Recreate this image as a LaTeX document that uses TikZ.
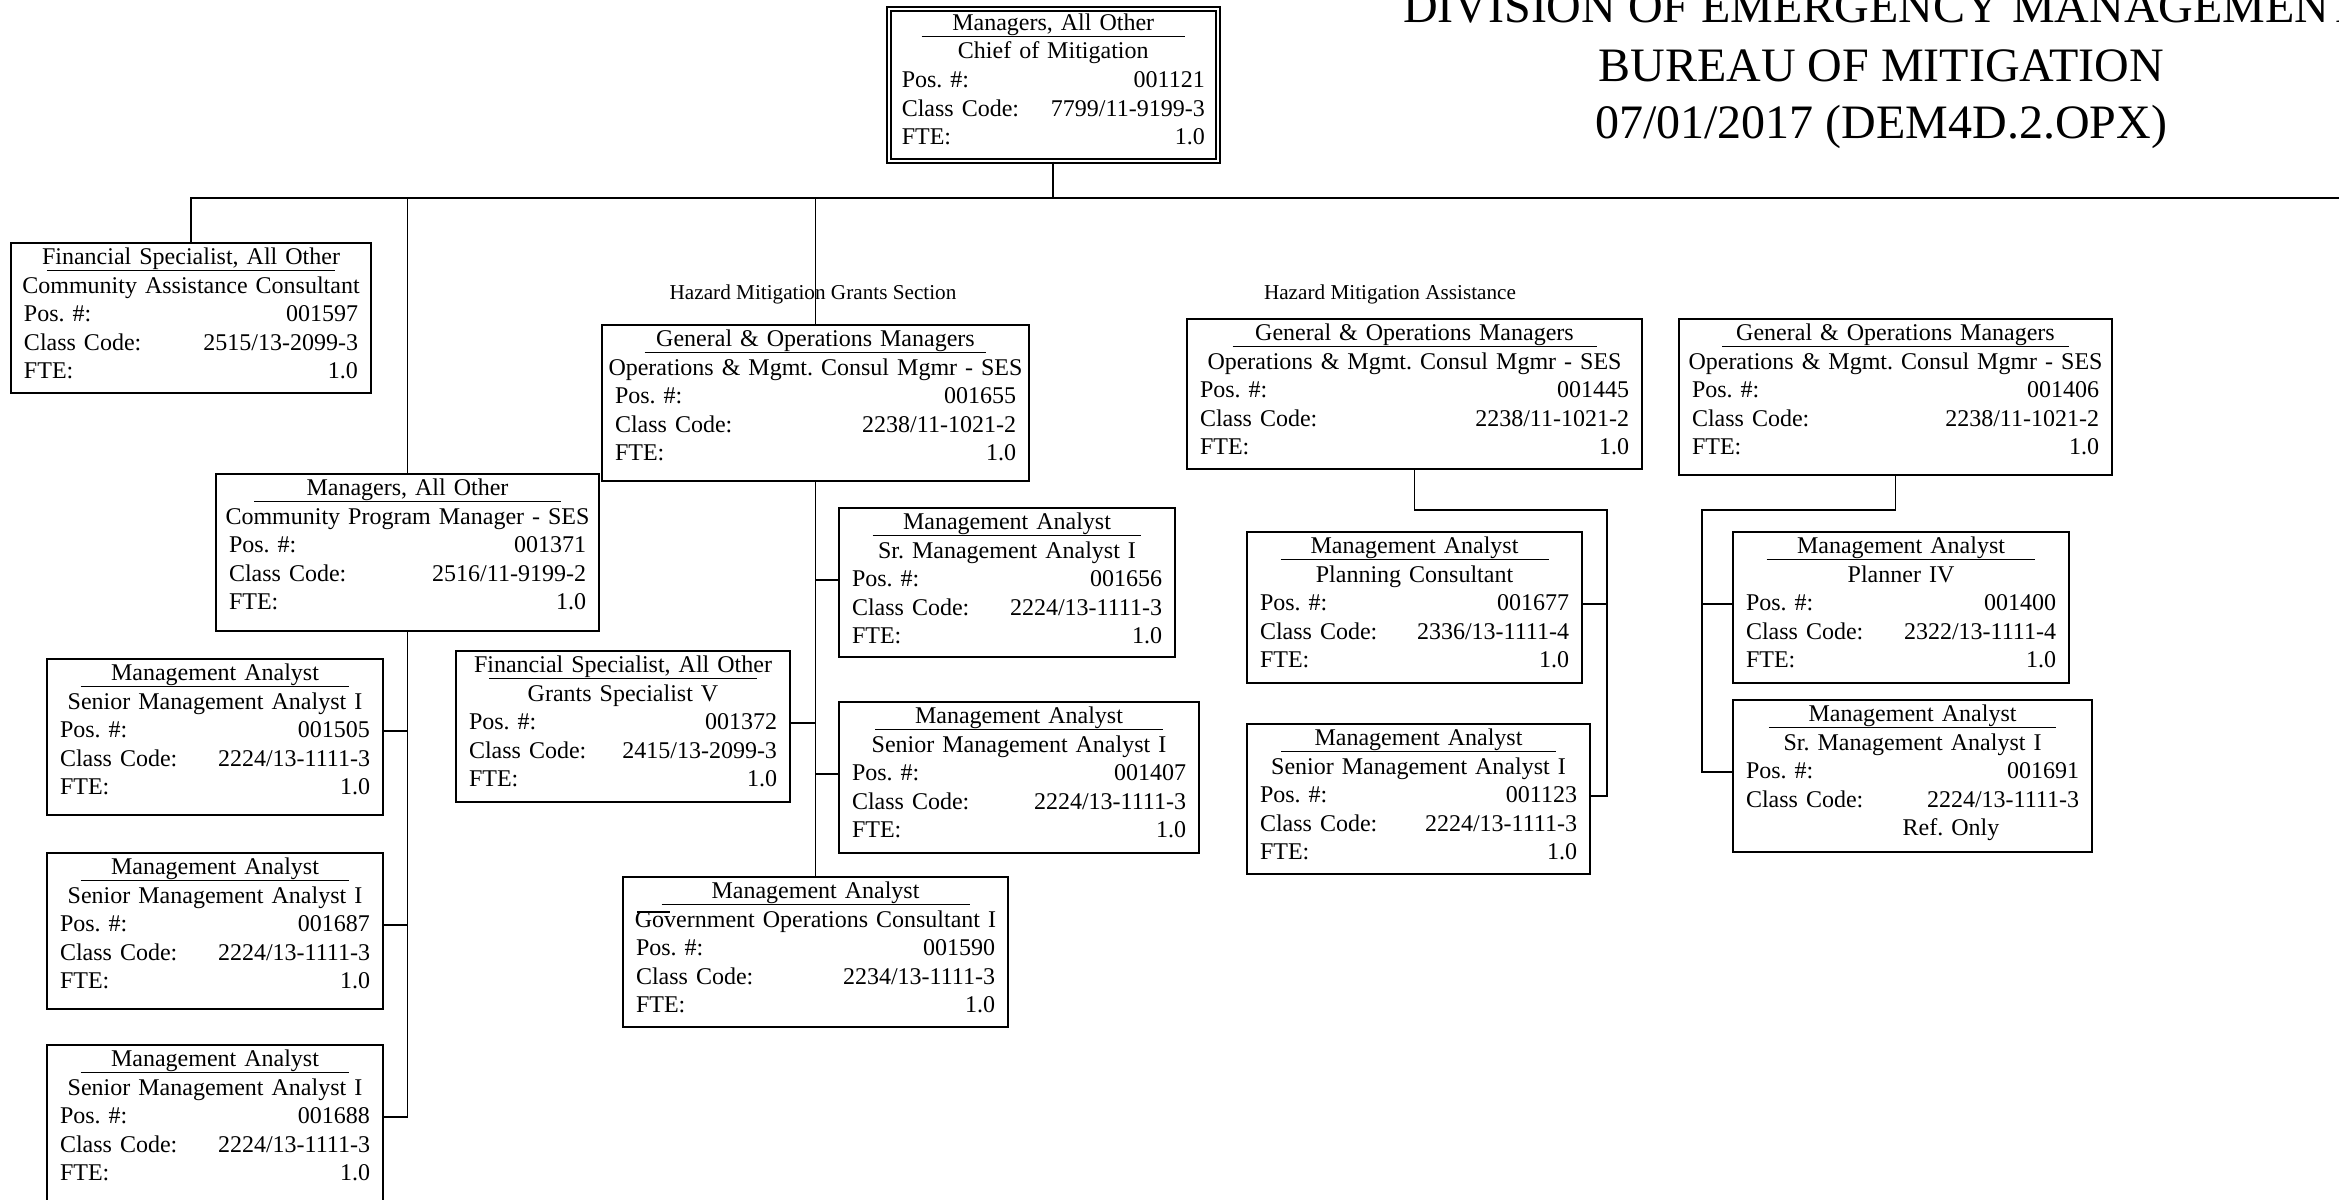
\documentclass[tikz,border=0pt]{standalone}
\usepackage{fontspec}
\setmainfont{Liberation Serif}
\frenchspacing

% one position card: name, left, top, right, bottom (px), body
\newcommand\card[7][card]{%
  \pgfmathsetmacro\cwid{(#5-#3)/2}%
  \pgfmathsetmacro\chgt{(#6-#4)/2}%
  \pgfmathsetmacro\ctw{\cwid-13}%
  \pgfmathsetmacro\ctd{\chgt-10.75}%
  \pgfmathsetmacro\culw{0.8*\cwid}%
  \node[#1, text width=\ctw pt, text depth=\ctd pt] (#2) at (#3,#4) {#7};%
}
% card body: title, working title, position, class code, FTE
\newcommand\cardtext[5]{%
  \makebox[\linewidth][c]{\makebox[0pt][c]{#1}\makebox[0pt][c]{\rule[-3.35pt]{\culw pt}{0.65pt}}}\\
  \makebox[\linewidth][c]{#2}\\
  \makebox[\linewidth][l]{Pos. \#:\hfill #3}\\
  \makebox[\linewidth][l]{Class Code:\hfill #4}\\
  \makebox[\linewidth][l]{FTE:\hfill #5}}
% card body with a reference-only last line
\newcommand\cardref[4]{%
  \makebox[\linewidth][c]{\makebox[0pt][c]{#1}\makebox[0pt][c]{\rule[-3.35pt]{\culw pt}{0.65pt}}}\\
  \makebox[\linewidth][c]{#2}\\
  \makebox[\linewidth][l]{Pos. \#:\hfill #3}\\
  \makebox[\linewidth][l]{Class Code:\hfill #4}\\
  \makebox[\linewidth][c]{\hspace*{38.5pt}Ref. Only}}

\begin{document}
\begin{tikzpicture}[x=0.5pt,y=-0.5pt,
  card/.style={draw, line width=1pt, inner xsep=6.5pt, inner ysep=0pt,
    anchor=north west, text height=10.75pt,
    font=\fontsize{12pt}{14.3pt}\selectfont},
  chief/.style={card, line width=0.75pt, double, double distance=1.25pt},
  conn/.style={line width=0.9pt, line join=miter},
  section/.style={font=\fontsize{10.6pt}{12pt}\selectfont, inner sep=0pt},
  heading/.style={font=\fontsize{24pt}{28pt}\selectfont, inner sep=0pt, anchor=base}]

\fill[white] (0,0) rectangle (2339,1199);
\useasboundingbox (0,0) rectangle (2339,1199);

% heading
\node[heading] (head1) at (1881,23) {DIVISION OF EMERGENCY MANAGEMENT};
\node[heading] (head2) at (1881,81) {BUREAU OF MITIGATION};
\node[heading] (head3) at (1881,138) {07/01/2017 (DEM4D.2.OPX)};

% section captions
\node[section] (secA) at (813,294) {Hazard Mitigation Grants Section};
\node[section] (secB) at (1390,294) {Hazard Mitigation Assistance};

% chief
\card[chief]{top}{888}{8}{1217}{160}{\cardtext{Managers, All Other}{Chief of Mitigation}{001121}{7799/11-9199-3}{1.0}}

% second level
\card{cac}{10}{242}{370}{392}{\cardtext{Financial Specialist, All Other}{Community Assistance Consultant}{001597}{2515/13-2099-3}{1.0}}
\card{mgr}{215}{473}{598}{630}{\cardtext{Managers, All Other}{Community Program Manager - SES}{001371}{2516/11-9199-2}{1.0}}
\card{gomA}{601}{324}{1028}{480}{\cardtext{General \& Operations Managers}{Operations \& Mgmt. Consul Mgmr - SES}{001655}{2238/11-1021-2}{1.0}}
\card{gomB}{1186}{318}{1641}{468}{\cardtext{General \& Operations Managers}{Operations \& Mgmt. Consul Mgmr - SES}{001445}{2238/11-1021-2}{1.0}}
\card{gomC}{1678}{318}{2111}{474}{\cardtext{General \& Operations Managers}{Operations \& Mgmt. Consul Mgmr - SES}{001406}{2238/11-1021-2}{1.0}}

% community program staff
\card{maA}{46}{658}{382}{814}{\cardtext{Management Analyst}{Senior Management Analyst I}{001505}{2224/13-1111-3}{1.0}}
\card{maB}{46}{852}{382}{1008}{\cardtext{Management Analyst}{Senior Management Analyst I}{001687}{2224/13-1111-3}{1.0}}
\card{maC}{46}{1044}{382}{1210}{\cardtext{Management Analyst}{Senior Management Analyst I}{001688}{2224/13-1111-3}{1.0}}

% grants section staff
\card{maD}{838}{507}{1174}{656}{\cardtext{Management Analyst}{Sr. Management Analyst I}{001656}{2224/13-1111-3}{1.0}}
\card{fsA}{455}{650}{789}{801}{\cardtext{Financial Specialist, All Other}{Grants Specialist V}{001372}{2415/13-2099-3}{1.0}}
\card{maE}{838}{701}{1198}{852}{\cardtext{Management Analyst}{Senior Management Analyst I}{001407}{2224/13-1111-3}{1.0}}
\card{maF}{622}{876}{1007}{1026}{\cardtext{Management Analyst}{Government Operations Consultant I}{001590}{2234/13-1111-3}{1.0}}
\draw[line width=0.65pt] (637,912) -- (670,912);

% assistance staff
\card{maG}{1246}{531}{1581}{682}{\cardtext{Management Analyst}{Planning Consultant}{001677}{2336/13-1111-4}{1.0}}
\card{maH}{1246}{723}{1589}{873}{\cardtext{Management Analyst}{Senior Management Analyst I}{001123}{2224/13-1111-3}{1.0}}
\card{maI}{1732}{531}{2068}{682}{\cardtext{Management Analyst}{Planner IV}{001400}{2322/13-1111-4}{1.0}}
\card{maJ}{1732}{699}{2091}{851}{\cardref{Management Analyst}{Sr. Management Analyst I}{001691}{2224/13-1111-3}}

% connector points
\coordinate (busR) at (2345,198);
\coordinate (jB) at (1607,510);
\coordinate (jC) at (1702,510);
\foreach \n in {maA,maB,maC,fsA,maG,maH}
  \coordinate (b\n) at ([yshift=-36.5pt]\n.north east);
\foreach \n in {maD,maE,maI,maJ}
  \coordinate (b\n) at ([yshift=-36.5pt]\n.north west);

% bus from the chief
\draw[conn] (top.south) -- (top.south |- busR);
\draw[conn] (cac.north) |- (busR);
\draw[conn] (mgr.north) -- (mgr.north |- busR);
\draw[conn] (gomA.north) -- (gomA.north |- busR);

% community program branch
\draw[conn] (mgr.south) |- (bmaC);
\draw[conn] (bmaA) -- (bmaA -| mgr.south);
\draw[conn] (bmaB) -- (bmaB -| mgr.south);

% grants section branch
\draw[conn] (gomA.south) -- (gomA.south |- maF.north);
\draw[conn] (bmaD) -- (bmaD -| gomA.south);
\draw[conn] (bfsA) -- (bfsA -| gomA.south);
\draw[conn] (bmaE) -- (bmaE -| gomA.south);

% assistance branches
\draw[conn] (gomB.south) |- (jB) |- (bmaH);
\draw[conn] (bmaG) -- (bmaG -| jB);
\draw[conn] (gomC.south) |- (jC) |- (bmaJ);
\draw[conn] (bmaI) -- (bmaI -| jC);

\end{tikzpicture}
\end{document}
